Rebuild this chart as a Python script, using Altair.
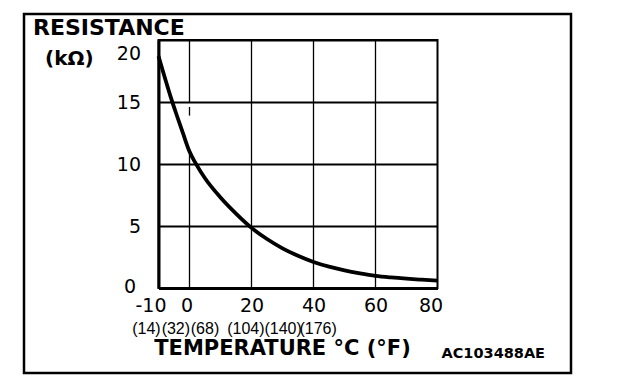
import altair as alt
import pandas as pd

# --- data ---
temp_c = [-10, -8, -6, -4, -2, 0, 2, 5, 10, 15, 20, 25, 30, 35, 40, 45, 50, 55, 60, 65, 70, 75, 80]
resistance = [18.7, 17.0, 15.35, 13.85, 12.4, 11.0, 10.05, 8.85, 7.3, 6.0, 4.85, 3.95, 3.2, 2.6,
              2.1, 1.72, 1.42, 1.18, 0.98, 0.85, 0.75, 0.67, 0.6]

x_ticks = [-10, 0, 20, 40, 60, 80]
y_ticks = [0, 5, 10, 15, 20]
x_grid = [20, 40, 60]

# x = 0 grid line is broken in the reference (segments)
zero_grid_x = [0, 0, 0]
zero_grid_top = [20, 14.6, 11.2]
zero_grid_bottom = [15, 13.9, 0]

f_labels = ["(14)", "(32)", "(68)", "(104)", "(140)", "(176)"]
f_label_x = [-13.9, -4.4, 5.0, 18.2, 30.2, 41.5]

FONT = "DejaVu Sans"

curve_df = pd.DataFrame({"t": temp_c, "r": resistance})
grid_df = pd.DataFrame({"t": x_grid + zero_grid_x,
                        "r": [20] * len(x_grid) + zero_grid_top,
                        "r2": [0] * len(x_grid) + zero_grid_bottom})
f_df = pd.DataFrame({"label": f_labels, "t": f_label_x})
one = pd.DataFrame({"a": [0]})

xscale = alt.Scale(domain=[-10, 80], nice=False, zero=False)
yscale = alt.Scale(domain=[0, 20], nice=False, zero=False)

x_label_offset = {
    "condition": [
        {"test": "datum.value == -10", "value": -8},
        {"test": "datum.value == 0", "value": -3},
        {"test": "datum.value == 80", "value": -7},
    ],
    "value": 0,
}
y_label_offset = {
    "condition": [
        {"test": "datum.value == 20", "value": 13},
        {"test": "datum.value == 0", "value": -2},
    ],
    "value": 0,
}
y_label_padding = {"condition": {"test": "datum.value == 0", "value": 23}, "value": 18}

x_axis = alt.Axis(values=x_ticks, grid=False, tickSize=0, domainColor="black", domainWidth=3,
                  labelFont=FONT, labelFontSize=19, labelColor="black", labelPadding=8,
                  labelFlush=False, labelOverlap=False, labelBound=False,
                  labelExpr="'' + datum.value",
                  labelOffset=x_label_offset, title=None)
y_axis = alt.Axis(values=y_ticks, grid=True, gridColor="black", gridWidth=2, tickSize=0,
                  domainColor="black", domainWidth=3,
                  labelFont=FONT, labelFontSize=19, labelColor="black",
                  labelPadding=y_label_padding,
                  labelFlush=False, labelOverlap=False, labelBound=False,
                  labelExpr="'' + datum.value",
                  labelOffset=y_label_offset, title=None)

frame = alt.Chart(one).mark_rect(filled=False, stroke="black", strokeWidth=2.5).encode(
    x=alt.value(-134.5), x2=alt.value(412.5), y=alt.value(-26), y2=alt.value(333)
)

grid = alt.Chart(grid_df).mark_rule(color="black", strokeWidth=1.3).encode(
    x=alt.X("t:Q", scale=xscale, axis=x_axis),
    y=alt.Y("r:Q", scale=yscale, axis=y_axis),
    y2="r2:Q",
)

line = alt.Chart(curve_df).mark_line(color="black", strokeWidth=3.8, interpolate="monotone").encode(
    x=alt.X("t:Q", scale=xscale, axis=x_axis),
    y=alt.Y("r:Q", scale=yscale, axis=y_axis),
)

f_text = alt.Chart(f_df).mark_text(font="Liberation Sans", fontSize=16, color="black", align="center",
                                   baseline="middle").encode(
    x=alt.X("t:Q", scale=xscale, axis=x_axis),
    y=alt.value(289),
    text="label:N",
)

def label(txt, x, y, size, align="left"):
    return alt.Chart(pd.DataFrame({"s": [txt]})).mark_text(
        font=FONT, fontSize=size, fontWeight="bold", color="black", align=align,
        baseline="alphabetic").encode(x=alt.value(x), y=alt.value(y), text="s:N")

t_res = label("RESISTANCE", -125.5, -5, 22)
t_unit = label("(kΩ)", -113.5, 25, 20)
t_temp = label("TEMPERATURE °C (°F)", 124, 315, 21, align="center")
t_code = label("AC103488AE", 283, 318, 14.5)

chart = alt.layer(frame, grid, line, f_text, t_res, t_unit, t_temp, t_code).properties(
    width=279, height=248,
    background="white",
    autosize=alt.AutoSizeParams(type="none"),
    padding={"left": 150.5, "top": 32, "right": 178.5, "bottom": 90},
).configure_view(stroke="black", strokeWidth=2)

chart.save("out.html", embed_options={"renderer": "svg", "actions": False})
